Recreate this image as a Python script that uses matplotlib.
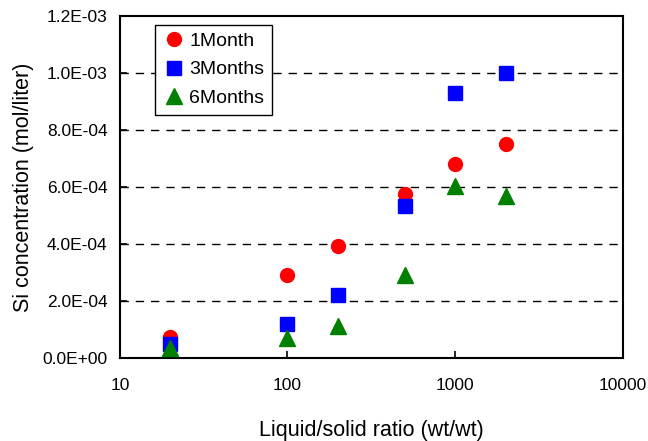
import matplotlib
matplotlib.use("Agg")
import matplotlib.pyplot as plt
from matplotlib.ticker import FuncFormatter

plt.rcParams['font.family'] = ['Liberation Sans', 'DejaVu Sans']

# données
ratio = [20, 100, 200, 500, 1000, 2000]
si_1month = [7.5e-5, 2.9e-4, 3.93e-4, 5.75e-4, 6.8e-4, 7.5e-4]
si_3months = [5.0e-5, 1.2e-4, 2.22e-4, 5.35e-4, 9.3e-4, 1.0e-3]
si_6months = [3.5e-5, 7.0e-5, 1.12e-4, 2.9e-4, 6.05e-4, 5.7e-4]

fig = plt.figure(figsize=(6.48, 4.41), dpi=100)
ax = fig.add_axes([0.185, 0.188, 0.776, 0.776])

ax.set_axisbelow(True)
for yv in [2e-4, 4e-4, 6e-4, 8e-4, 1e-3]:
    ax.axhline(yv, color='black', lw=1, dashes=(6, 5), zorder=0)

ax.plot(ratio, si_1month, 'o', color='#ff0000', ms=10, label='1Month', zorder=3)
ax.plot(ratio, si_3months, 's', color='#0000ff', ms=10, label='3Months', zorder=3)
ax.plot(ratio, si_6months, '^', color='#008000', ms=11, label='6Months', zorder=3)

ax.set_xscale('log')
ax.set_xlim(10, 10000)
ax.set_ylim(0, 1.2e-3)
ax.set_xticks([10, 100, 1000, 10000])
ax.set_xticklabels(['10', '100', '1000', '10000'])
ax.minorticks_off()
ax.set_yticks([0, 2e-4, 4e-4, 6e-4, 8e-4, 1e-3, 1.2e-3])
ax.yaxis.set_major_formatter(FuncFormatter(lambda v, p: '0.0E+00' if v == 0 else '%.1E' % v))
ax.tick_params(direction='in', length=5, width=1.2, labelsize=12.5)
ax.tick_params(axis='x', pad=14)
ax.tick_params(axis='y', pad=9)
for s in ax.spines.values():
    s.set_linewidth(1.5)

ax.set_xlabel('Liquid/solid ratio (wt/wt)', fontsize=15.5, labelpad=20)
ax.set_ylabel('Si concentration (mol/liter)', fontsize=15.5, labelpad=6)

leg = ax.legend(loc='upper left', bbox_to_anchor=(0.07, 0.974), borderaxespad=0,
                fontsize=14, frameon=True, fancybox=False, edgecolor='black',
                framealpha=1, handletextpad=0.25, labelspacing=0.55,
                borderpad=0.4, handlelength=1.1)
leg.get_frame().set_linewidth(1)

fig.savefig('out.png', dpi=100)
